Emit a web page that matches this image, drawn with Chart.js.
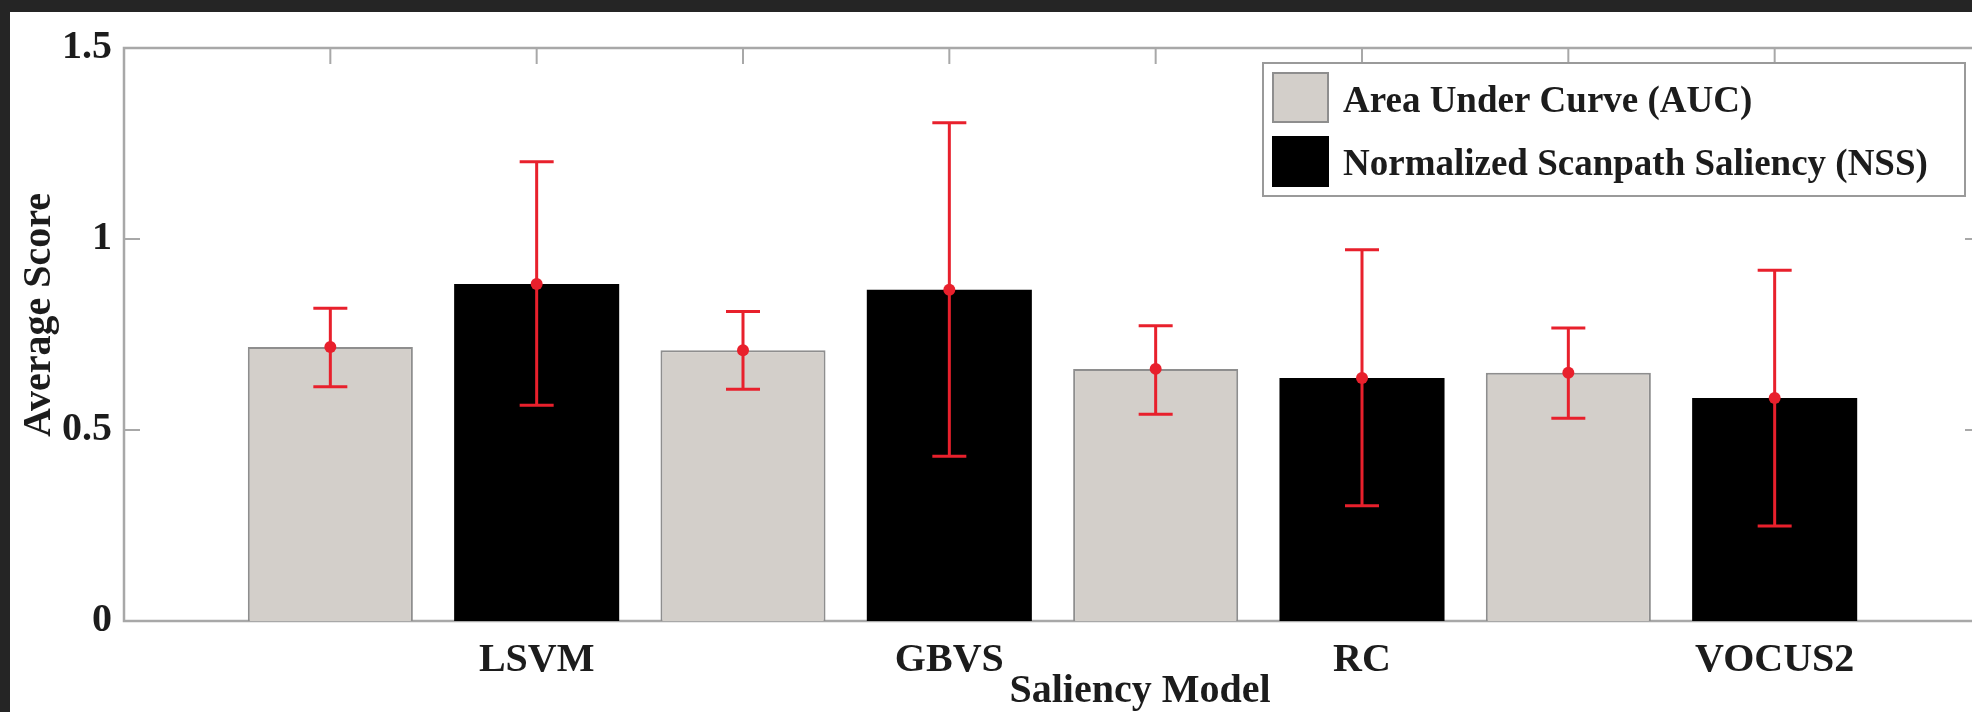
<!DOCTYPE html>
<html><head><meta charset="utf-8">
<script src="https://cdn.jsdelivr.net/npm/chart.js@4/dist/chart.umd.min.js"></script>
<style>
html,body{margin:0;padding:0;background:#252525;overflow:hidden;width:1972px;height:712px;}
#wrap{position:absolute;left:10px;top:12px;width:1990px;height:700px;background:#fff;}
canvas{display:block;}
</style></head><body>
<div id="wrap"><canvas id="c" width="1990" height="700"></canvas></div>
<script>
// ---- data ----
const models = ['LSVM', 'GBVS', 'RC', 'VOCUS2'];
const aucMean = [0.717, 0.709, 0.660, 0.650];
const aucLow  = [0.613, 0.607, 0.541, 0.531];
const aucHigh = [0.819, 0.810, 0.773, 0.767];
const nssMean = [0.882, 0.867, 0.636, 0.584];
const nssLow  = [0.565, 0.431, 0.302, 0.249];
const nssHigh = [1.202, 1.304, 0.972, 0.918];
const yTicks = [0, 0.5, 1, 1.5];
const seriesNames = ['Area Under Curve (AUC)', 'Normalized Scanpath Saliency (NSS)'];
const xTitle = 'Saliency Model';
const yTitle = 'Average Score';

// ---- slots: empty edge, AUC/NSS pairs, empty edge ----
const slots = ['start'];
const tickLabels = [''];
models.forEach(m => { slots.push(m + ' AUC', m + ' NSS'); tickLabels.push('', m); });
slots.push('end'); tickLabels.push('');
const nSlots = slots.length;
function place(arr, offset) {
  const out = new Array(nSlots).fill(null);
  arr.forEach((v, k) => { out[1 + 2 * k + offset] = v; });
  return out;
}

const FONT = 'Liberation Serif';
const TEXT = '#1c1c1c';
const AXIS = '#a8a8a8';
const ERR = '#e8202c';

const errorBars = {
  id: 'errorBars',
  afterDatasetsDraw(chart) {
    const ctx = chart.ctx, y = chart.scales.y, x = chart.scales.x;
    ctx.save();
    ctx.strokeStyle = ERR; ctx.fillStyle = ERR; ctx.lineWidth = 3;
    chart.data.datasets.forEach(ds => {
      ds.data.forEach((v, i) => {
        if (v === null) return;
        const px = x.getPixelForValue(i);
        const lo = y.getPixelForValue(ds.errLow[i]);
        const hi = y.getPixelForValue(ds.errHigh[i]);
        const mid = y.getPixelForValue(v);
        const cap = 17;
        ctx.beginPath();
        ctx.moveTo(px, lo); ctx.lineTo(px, hi);
        ctx.moveTo(px - cap, lo); ctx.lineTo(px + cap, lo);
        ctx.moveTo(px - cap, hi); ctx.lineTo(px + cap, hi);
        ctx.stroke();
        ctx.beginPath(); ctx.arc(px, mid, 6, 0, Math.PI * 2); ctx.fill();
      });
    });
    ctx.restore();
  }
};

const frame = {
  id: 'frame',
  beforeDatasetsDraw(chart) {
    const ctx = chart.ctx, a = chart.chartArea, x = chart.scales.x, y = chart.scales.y;
    ctx.save();
    ctx.strokeStyle = AXIS; ctx.lineWidth = 2.5;
    ctx.strokeRect(a.left, a.top, a.right - a.left, a.bottom - a.top);
    ctx.lineWidth = 2;
    ctx.beginPath();
    for (let i = 1; i < nSlots - 1; i++) {
      const px = x.getPixelForValue(i);
      ctx.moveTo(px, a.top); ctx.lineTo(px, a.top + 16);
      ctx.moveTo(px, a.bottom); ctx.lineTo(px, a.bottom - 16);
    }
    yTicks.forEach(v => {
      const py = y.getPixelForValue(v);
      ctx.moveTo(a.left, py); ctx.lineTo(a.left + 16, py);
      ctx.moveTo(a.right, py); ctx.lineTo(a.right - 16, py);
    });
    ctx.stroke();
    ctx.restore();
  }
};

const legendBox = {
  id: 'legendBox',
  afterDraw(chart) {
    const ctx = chart.ctx;
    ctx.save();
    ctx.fillStyle = '#fff'; ctx.strokeStyle = '#9a9a9a'; ctx.lineWidth = 2;
    ctx.fillRect(1253, 51, 702, 133);
    ctx.strokeRect(1253, 51, 702, 133);
    const rows = [[61, 49, 100], [125, 49, 163]];
    chart.data.datasets.forEach((ds, i) => {
      const [top, h, base] = rows[i];
      ctx.fillStyle = ds.backgroundColor;
      ctx.fillRect(1263, top, 55, h);
      ctx.strokeStyle = ds.borderColor; ctx.lineWidth = 2;
      ctx.strokeRect(1263, top, 55, h);
      ctx.fillStyle = TEXT;
      ctx.font = 'bold 37px "' + FONT + '"';
      ctx.textAlign = 'left'; ctx.textBaseline = 'alphabetic';
      ctx.fillText(ds.label, 1333, base);
    });
    ctx.restore();
  }
};

const axisTitles = {
  id: 'axisTitles',
  afterDraw(chart) {
    const ctx = chart.ctx;
    ctx.save();
    ctx.fillStyle = TEXT;
    ctx.font = 'bold 40px "' + FONT + '"';
    ctx.textAlign = 'center'; ctx.textBaseline = 'alphabetic';
    ctx.fillText(xTitle, 1130, 690);
    ctx.translate(40, 303);
    ctx.rotate(-Math.PI / 2);
    ctx.fillText(yTitle, 0, 0);
    ctx.restore();
  }
};

new Chart(document.getElementById('c'), {
  type: 'bar',
  data: {
    labels: slots,
    datasets: [
      { label: seriesNames[0], data: place(aucMean, 0), errLow: place(aucLow, 0), errHigh: place(aucHigh, 0),
        backgroundColor: '#d3cfca', borderColor: '#8e8e8e', borderWidth: 2,
        grouped: false, barPercentage: 0.8, categoryPercentage: 1 },
      { label: seriesNames[1], data: place(nssMean, 1), errLow: place(nssLow, 1), errHigh: place(nssHigh, 1),
        backgroundColor: '#000000', borderColor: '#000000', borderWidth: 0,
        grouped: false, barPercentage: 0.8, categoryPercentage: 1 }
    ]
  },
  options: {
    responsive: false, animation: false, devicePixelRatio: 1,
    layout: { padding: { top: 32, right: 19, left: 0, bottom: 0 } },
    plugins: { legend: { display: false }, tooltip: { enabled: false } },
    scales: {
      x: {
        type: 'category', offset: false,
        grid: { display: false, drawTicks: false }, border: { display: false },
        ticks: { autoSkip: false, maxRotation: 0, minRotation: 0, padding: 16, color: TEXT,
                 font: { family: FONT, weight: 'bold', size: 40 },
                 callback: (v, i) => tickLabels[i] },
        afterFit: s => { s.height = 91; }
      },
      y: {
        min: 0, max: 1.5,
        afterBuildTicks: s => { s.ticks = yTicks.map(v => ({ value: v })); },
        grid: { display: false, drawTicks: false }, border: { display: false },
        ticks: { padding: 12, color: TEXT, font: { family: FONT, weight: 'bold', size: 40 },
                 callback: v => String(v) },
        afterFit: s => { s.width = 114; }
      }
    }
  },
  plugins: [frame, errorBars, legendBox, axisTitles]
});
</script>
</body></html>
